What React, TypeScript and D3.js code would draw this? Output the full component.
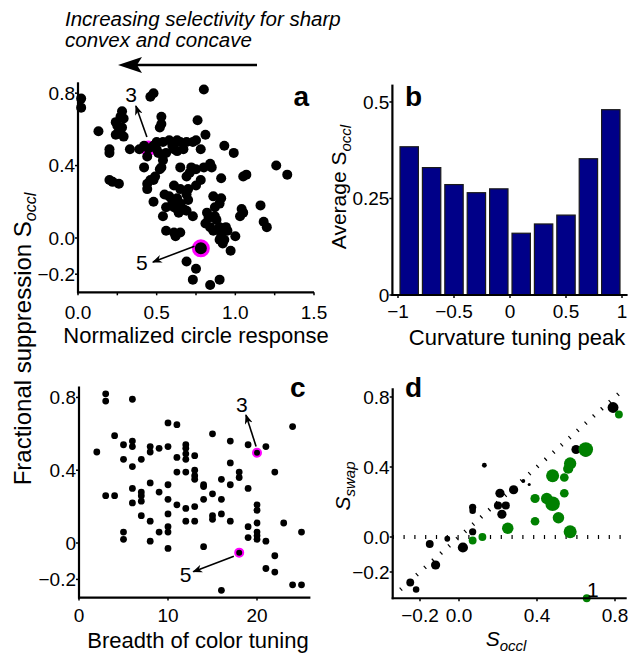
import React from 'react';
import * as d3 from 'd3';

const FONT = '"Liberation Sans", Arial, Helvetica, sans-serif';

// a: normalized circle response vs fractional suppression (S_occl)
const circleVsOccl: [number, number][] = [
  [0.02, 0.77], [0.02, 0.72], [0.48, 0.80], [0.46, 0.78], [0.80, 0.82], [0.28, 0.70], [0.27, 0.67],
  [0.29, 0.66], [0.24, 0.64], [0.25, 0.62], [0.28, 0.61], [0.13, 0.59], [0.24, 0.57], [0.27, 0.58],
  [0.29, 0.56], [0.53, 0.67], [0.53, 0.63], [0.52, 0.61], [0.76, 0.65], [0.81, 0.57], [0.20, 0.49],
  [0.20, 0.47], [0.33, 0.49], [0.44, 0.45], [0.42, 0.39], [0.50, 0.53], [0.54, 0.53], [0.58, 0.54],
  [0.63, 0.54], [0.65, 0.53], [0.69, 0.53], [0.73, 0.53], [0.75, 0.54], [0.60, 0.51], [0.61, 0.49],
  [0.63, 0.48], [0.56, 0.47], [0.67, 0.49], [0.50, 0.49], [0.48, 0.51], [0.51, 0.47], [0.93, 0.51],
  [0.99, 0.47], [0.78, 0.49], [0.54, 0.43], [0.53, 0.39], [0.52, 0.38], [0.49, 0.34], [0.48, 0.32],
  [0.44, 0.30], [0.46, 0.32], [0.72, 0.39], [0.73, 0.38], [0.71, 0.36], [0.75, 0.38], [0.80, 0.39],
  [0.84, 0.41], [0.85, 0.39], [0.65, 0.39], [0.61, 0.29], [0.65, 0.27], [0.69, 0.34], [0.78, 0.32],
  [0.75, 0.29], [0.70, 0.27], [0.69, 0.24], [0.70, 0.21], [0.91, 0.33], [1.05, 0.34], [1.07, 0.35],
  [1.26, 0.40], [1.33, 0.35], [0.44, 0.27], [0.48, 0.20], [0.55, 0.24], [0.58, 0.23], [0.60, 0.20],
  [0.63, 0.22], [0.65, 0.19], [0.61, 0.17], [0.63, 0.16], [0.67, 0.16], [0.64, 0.14], [0.69, 0.15],
  [0.73, 0.12], [0.56, 0.17], [0.54, 0.12], [0.86, 0.23], [0.91, 0.22], [0.90, 0.19], [0.87, 0.17],
  [0.82, 0.14], [0.83, 0.11], [0.81, 0.08], [0.87, 0.12], [0.88, 0.10], [0.84, 0.06], [0.90, 0.06],
  [0.94, 0.06], [0.95, 0.04], [0.91, 0.03], [0.86, 0.04], [1.04, 0.16], [1.05, 0.14], [1.03, 0.12],
  [1.16, 0.18], [1.18, 0.09], [1.20, 0.06], [0.56, 0.04], [0.61, 0.03], [0.65, 0.03], [0.62, 0.01],
  [0.91, 0.01], [0.93, -0.01], [1.00, 0.01], [0.97, -0.07], [0.92, -0.03], [0.90, -0.01], [0.69, -0.13],
  [0.75, -0.17], [0.73, -0.23], [0.84, -0.26], [0.90, -0.23], [0.20, 0.32], [0.26, 0.30], [0.22, 0.31],
  [0.39, 0.49], [0.42, 0.51],
];
const cell3A: [number, number] = [0.447, 0.495];
const cell5A: [number, number] = [0.781, -0.057];

// b: average S_occl per curvature tuning peak bin
const curvatureBins = [-0.9, -0.7, -0.5, -0.3, -0.1, 0.1, 0.3, 0.5, 0.7, 0.9];
const avgOccl = [0.384, 0.330, 0.286, 0.265, 0.275, 0.160, 0.184, 0.207, 0.353, 0.480];

// c: breadth of color tuning vs S_occl
const breadthVsOccl: [number, number][] = [
  [2, 0.50], [3, 0.82], [3, 0.78], [6, 0.79], [4, 0.59], [5, 0.54], [6, 0.56], [6, 0.53], [5, 0.46],
  [6, 0.42], [7, 0.46], [8, 0.53], [8, 0.50], [9, 0.52], [10, 0.53], [10, 0.66], [11, 0.65], [11, 0.47],
  [11, 0.39], [10, 0.32], [12, 0.54], [12, 0.52], [12, 0.49], [12, 0.46], [13, 0.48], [12, 0.39],
  [13, 0.40], [13, 0.37], [13, 0.35], [15, 0.60], [14, 0.32], [14, 0.31], [15, 0.27], [16, 0.35],
  [17, 0.56], [17, 0.44], [17, 0.32], [18, 0.39], [18, 0.36], [19, 0.54], [19, 0.30], [21, 0.53],
  [22, 0.39], [24, 0.64], [3, 0.26], [4, 0.26], [6, 0.30], [7, 0.28], [7, 0.26], [6, 0.22], [7, 0.23],
  [7, 0.15], [8, 0.33], [8, 0.12], [9, 0.28], [10, 0.24], [10, 0.16], [11, 0.21], [12, 0.19], [12, 0.12],
  [13, 0.20], [13, 0.12], [14, 0.24], [15, 0.15], [15, 0.13], [16, 0.24], [16, 0.16], [17, 0.12],
  [19, 0.09], [20, 0.21], [20, 0.18], [20, 0.11], [19, 0.03], [20, 0.06], [20, 0.04], [20, 0.02],
  [21, 0.01], [23, 0.11], [22, -0.07], [21, -0.14], [22, -0.16], [25, 0.06], [5, 0.06], [5, 0.02],
  [8, 0.01], [9, 0.06], [10, 0.09], [10, 0.06], [10, -0.03], [14, -0.02], [16, -0.26], [24, -0.23],
  [25, -0.23],
];
const cell3C: [number, number] = [20, 0.496];
const cell5C: [number, number] = [18, -0.053];

// d: S_occl vs S_swap, [S_occl, S_swap, weight]
const blackCells: [number, number, number][] = [
  [0.79, 0.74, 25], [0.60, 0.50, 18], [0.65, 0.49, 25], [0.13, 0.41, 5], [0.33, 0.32, 3], [0.36, 0.30, 2],
  [0.28, 0.27, 18], [0.21, 0.25, 18], [0.20, 0.18, 14], [0.24, 0.18, 14], [0.22, 0.13, 18], [0.07, 0.17, 11],
  [0.07, 0.15, 9], [0.07, 0.03, 11], [-0.06, -0.01, 7], [-0.15, -0.04, 13], [0.02, -0.06, 22],
  [-0.12, -0.16, 18], [-0.25, -0.26, 13], [-0.22, -0.30, 9],
];
const greenCells: [number, number, number][] = [
  [0.82, 0.70, 13], [0.65, 0.50, 45], [0.57, 0.42, 32], [0.56, 0.39, 22], [0.54, 0.34, 16],
  [0.48, 0.35, 36], [0.39, 0.22, 18], [0.45, 0.22, 28], [0.48, 0.19, 45], [0.54, 0.25, 16],
  [0.51, 0.11, 28], [0.39, 0.09, 16], [0.57, 0.03, 36], [0.25, 0.05, 28], [0.12, 0.00, 13],
  [0.07, -0.02, 13], [0.655, -0.35, 13],
];

const ticksA_x = [0, 0.25, 0.5, 0.75, 1, 1.25, 1.5];
const labelsA_x = [0, 0.5, 1, 1.5];
const ticksOccl = [0.8, 0.4, 0, -0.2];
const ticksB_x = [-1, -0.5, 0, 0.5, 1];
const ticksB_y = [0, 0.25, 0.5];
const ticksC_x = [0, 10, 20];
const ticksD_x = [-0.2, 0, 0.4, 0.8];
const ticksD_y = [0.8, 0.4, 0, -0.2];

const xA = d3.scaleLinear().domain([0, 1.5]).range([78, 314]);
const yA = d3.scaleLinear().domain([-0.3, 0.86]).range([292.3, 82.3]);
const xB = d3.scaleLinear().domain([-1.05, 1.05]).range([392.4, 627.6]);
const yB = d3.scaleLinear().domain([0, 0.545]).range([295, 84.6]);
const xC = d3.scaleLinear().domain([0, 26]).range([79, 310.4]);
const yC = d3.scaleLinear().domain([-0.3, 0.86]).range([597.6, 386.5]);
const xD = d3.scaleLinear().domain([-0.34, 0.86]).range([392.7, 626.7]);
const yD = d3.scaleLinear().domain([-0.35, 0.85]).range([598.25, 388.25]);
const rD = d3.scaleSqrt().domain([0, 45]).range([0, 7.3]);

const f1 = d3.format('.1f');
const minus = (s: string) => s.replace('-', '\u2212');

const tickStyle = { fontFamily: FONT, fontSize: 19 };

type Scale = d3.ScaleLinear<number, number>;

function Axes({ x, y, xTicks, yTicks, xLabels, yLabels, labelGap = 26 }: {
  x: Scale; y: Scale; xTicks: number[]; yTicks: number[];
  xLabels: [number, string][]; yLabels: [number, string][]; labelGap?: number;
}) {
  const [x0, x1] = x.range();
  const [y0, y1] = y.range();
  return (
    <g>
      <line x1={x0} x2={x0} y1={y0 + 1} y2={y1} stroke="#000" strokeWidth={2.2} />
      <line x1={x0 - 1} x2={x1} y1={y0} y2={y0} stroke="#000" strokeWidth={2.2} />
      {xTicks.map(t => (
        <line key={'xt' + t} x1={x(t)} x2={x(t)} y1={y0} y2={y0 + 3} stroke="#000" strokeWidth={1.5} />
      ))}
      {yTicks.map(t => (
        <line key={'yt' + t} x1={x0 - 3} x2={x0} y1={y(t)} y2={y(t)} stroke="#000" strokeWidth={1.5} />
      ))}
      {xLabels.map(([v, s]) => (
        <text key={'xl' + v} x={x(v)} y={y0 + labelGap} textAnchor="middle" style={tickStyle}>{s}</text>
      ))}
      {yLabels.map(([v, s]) => (
        <text key={'yl' + v} x={x0 - 3} y={y(v)} dy="0.35em" textAnchor="end" style={tickStyle}>{s}</text>
      ))}
    </g>
  );
}

function Arrow({ x, y, from, to }: { x: Scale; y: Scale; from: [number, number]; to: [number, number] }) {
  return (
    <line x1={x(from[0])} y1={y(from[1])} x2={x(to[0])} y2={y(to[1])}
      stroke="#000" strokeWidth={1.6} markerEnd="url(#head)" />
  );
}

export default function App() {
  return (
    <svg width={636} height={655} style={{ position: 'absolute', left: 0, top: 0, background: '#fff' }}>
      <defs>
        <marker id="head" viewBox="0 0 10 8" refX={9} refY={4} markerWidth={10} markerHeight={8}
          markerUnits="userSpaceOnUse" orient="auto">
          <path d="M0,0 L10,4 L0,8 L3,4 z" fill="#000" />
        </marker>
      </defs>

      {/* header note */}
      <g style={{ fontFamily: FONT, fontSize: 20.5, fontStyle: 'italic' }}>
        <text x={65} y={26}>Increasing selectivity for sharp</text>
        <text x={65} y={47}>convex and concave</text>
      </g>
      <line x1={257} x2={136} y1={65} y2={65} stroke="#000" strokeWidth={2.5} />
      <path d="M118,65 L142,57 L137,65 L142,73 z" fill="#000" />

      {/* shared y title */}
      <text transform="translate(31,339) rotate(-90)" textAnchor="middle"
        style={{ fontFamily: FONT, fontSize: 24 }}>
        Fractional suppression S<tspan fontSize={16} fontStyle="italic" dy="0.3em">occl</tspan>
      </text>

      {/* panel a */}
      <g>
        <circle cx={xA(cell3A[0])} cy={yA(cell3A[1])} r={6.5} fill="#000" stroke="#ff00ff" strokeWidth={3} />
        {circleVsOccl.map((d, i) => (
          <circle key={i} cx={xA(d[0])} cy={yA(d[1])} r={5} fill="#000" />
        ))}
        <circle cx={xA(cell5A[0])} cy={yA(cell5A[1])} r={7.5} fill="#000" stroke="#ff00ff" strokeWidth={3} />
        <Axes x={xA} y={yA} xTicks={ticksA_x} yTicks={ticksOccl}
          xLabels={labelsA_x.map(v => [v, f1(v)] as [number, string])}
          yLabels={ticksOccl.map(v => [v, f1(v)] as [number, string])} labelGap={27} />
        <Arrow x={xA} y={yA} from={[0.438, 0.558]} to={[0.368, 0.729]} />
        <Arrow x={xA} y={yA} from={[0.74, -0.045]} to={[0.476, -0.133]} />
        <g style={{ fontFamily: FONT, fontSize: 21 }} textAnchor="middle">
          <text x={xA(0.337)} y={yA(0.751)}>3</text>
          <text x={xA(0.406)} y={yA(-0.177)}>5</text>
        </g>
        <text x={xA(1.37)} y={106} style={{ fontFamily: FONT, fontSize: 28, fontWeight: 'bold' }}>a</text>
        <text x={196} y={343} textAnchor="middle" style={{ fontFamily: FONT, fontSize: 22 }}>
          Normalized circle response
        </text>
      </g>

      {/* panel b */}
      <g>
        {curvatureBins.map((c, i) => (
          <rect key={i} x={xB(c - 0.082)} y={yB(avgOccl[i])} width={xB(c + 0.082) - xB(c - 0.082)}
            height={yB(0) - yB(avgOccl[i])} fill="#000088" stroke="#1a1a1a" strokeWidth={1.2} />
        ))}
        <Axes x={xB} y={yB} xTicks={ticksB_x} yTicks={ticksB_y}
          xLabels={ticksB_x.map(v => [v, minus(String(v))] as [number, string])}
          yLabels={ticksB_y.map(v => [v, String(v)] as [number, string])} labelGap={23} />
        <text x={405} y={106} style={{ fontFamily: FONT, fontSize: 28, fontWeight: 'bold' }}>b</text>
        <text transform="translate(346,187) rotate(-90)" textAnchor="middle"
          style={{ fontFamily: FONT, fontSize: 21 }}>
          Average S<tspan fontSize={15} fontStyle="italic" dy="0.3em">occl</tspan>
        </text>
        <text x={517} y={345} textAnchor="middle" style={{ fontFamily: FONT, fontSize: 22 }}>
          Curvature tuning peak
        </text>
      </g>

      {/* panel c */}
      <g>
        {breadthVsOccl.map((d, i) => (
          <circle key={i} cx={xC(d[0])} cy={yC(d[1])} r={3.4} fill="#000" />
        ))}
        {[cell3C, cell5C].map((d, i) => (
          <circle key={'h' + i} cx={xC(d[0])} cy={yC(d[1])} r={4} fill="#000" stroke="#ff00ff" strokeWidth={2} />
        ))}
        <Axes x={xC} y={yC} xTicks={ticksC_x} yTicks={ticksOccl}
          xLabels={ticksC_x.map(v => [v, String(v)] as [number, string])}
          yLabels={ticksOccl.map(v => [v, v === 0 ? '0' : f1(v)] as [number, string])} labelGap={24} />
        <Arrow x={xC} y={yC} from={[19.9, 0.53]} to={[18.76, 0.703]} />
        <Arrow x={xC} y={yC} from={[17.4, -0.073]} to={[12.84, -0.158]} />
        <g style={{ fontFamily: FONT, fontSize: 21 }} textAnchor="middle">
          <text x={xC(18.3)} y={yC(0.72)}>3</text>
          <text x={xC(11.97)} y={yC(-0.214)}>5</text>
        </g>
        <text x={290} y={397} style={{ fontFamily: FONT, fontSize: 28, fontWeight: 'bold' }}>c</text>
        <text x={198} y={648} textAnchor="middle" style={{ fontFamily: FONT, fontSize: 22 }}>
          Breadth of color tuning
        </text>
      </g>

      {/* panel d */}
      <g>
        <line x1={xD(-0.3)} y1={yD(-0.3)} x2={xD(0.83)} y2={yD(0.83)}
          stroke="#000" strokeWidth={4} strokeDasharray="1.2 9.6" />
        <line x1={xD(-0.34)} y1={yD(0)} x2={xD(0.86)} y2={yD(0)}
          stroke="#000" strokeWidth={4} strokeDasharray="1.2 9.6" />
        {blackCells.map((d, i) => (
          <circle key={'b' + i} cx={xD(d[0])} cy={yD(d[1])} r={rD(d[2])} fill="#000" />
        ))}
        {greenCells.map((d, i) => (
          <circle key={'g' + i} cx={xD(d[0])} cy={yD(d[1])} r={rD(d[2])} fill="#008000" />
        ))}
        <Axes x={xD} y={yD} xTicks={ticksD_x} yTicks={ticksD_y}
          xLabels={ticksD_x.map(v => [v, minus(f1(v))] as [number, string])}
          yLabels={ticksD_y.map(v => [v, minus(f1(v))] as [number, string])} labelGap={24} />
        <text x={xD(0.687)} y={yD(-0.343)} textAnchor="middle" style={{ fontFamily: FONT, fontSize: 21 }}>1</text>
        <text x={405} y={397} style={{ fontFamily: FONT, fontSize: 28, fontWeight: 'bold' }}>d</text>
        <text transform="translate(350,486) rotate(-90)" textAnchor="middle"
          style={{ fontFamily: FONT, fontSize: 21, fontStyle: 'italic' }}>
          S<tspan fontSize={15} dy="0.3em">swap</tspan>
        </text>
        <text x={506} y={646} textAnchor="middle" style={{ fontFamily: FONT, fontSize: 21, fontStyle: 'italic' }}>
          S<tspan fontSize={15} dy="0.3em">occl</tspan>
        </text>
      </g>
    </svg>
  );
}
